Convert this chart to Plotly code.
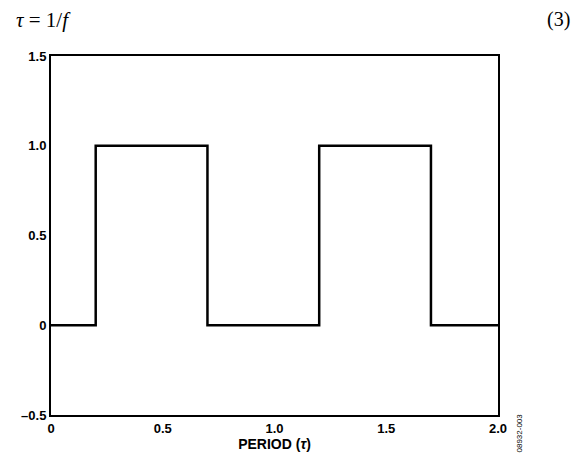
import plotly.graph_objects as go

x_vals = [0, 0.2, 0.2, 0.7, 0.7, 1.2, 1.2, 1.7, 1.7, 2.0]
y_vals = [0, 0, 1, 1, 0, 0, 1, 1, 0, 0]
x_ticks = [0, 0.5, 1.0, 1.5, 2.0]
x_tick_labels = ["0", "0.5", "1.0", "1.5", "2.0"]
y_ticks = [-0.5, 0, 0.5, 1.0, 1.5]
y_tick_labels = ["–0.5", "0", "0.5", "1.0", "1.5"]

W, H = 577, 464
L, R, T, B = 43, 87, 48, 57
pw, ph = W - L - R, H - T - B

fig = go.Figure(go.Scatter(x=x_vals, y=y_vals, mode="lines",
                           line=dict(color="black", width=2.5), hoverinfo="skip"))
bold = dict(family="Liberation Sans", size=13, color="black")
fig.update_layout(
    width=W, height=H, margin=dict(l=L, r=R, t=T, b=B),
    paper_bgcolor="white", plot_bgcolor="white", showlegend=False,
    xaxis=dict(range=[0, 2.0], tickvals=x_ticks, ticktext=[f"<b>{t}</b>" for t in x_tick_labels],
               showgrid=False, zeroline=False, showline=True, linecolor="black", linewidth=2,
               mirror=True, ticks="", tickfont=bold,
               title=dict(text="<b>PERIOD (</b><b><i>τ</i></b><b>)</b>", font=dict(family="Liberation Sans", size=14, color="black"), standoff=2)),
    yaxis=dict(range=[-0.5, 1.5], tickvals=y_ticks, ticktext=[f"<b>{t}</b>" for t in y_tick_labels],
               showgrid=False, zeroline=False, showline=True, linecolor="black", linewidth=2,
               mirror=True, ticks="", tickfont=bold),
    annotations=[
        dict(text="<i>τ</i> = 1/<i>f</i>", x=(6 - L) / pw, y=(H - 12 - B) / ph, xref="paper", yref="paper",
             showarrow=False, xanchor="left", yanchor="middle",
             font=dict(family="Liberation Serif", size=21, color="black")),
        dict(text="(3)", x=(564 - L) / pw, y=(H - 12 - B) / ph, xref="paper", yref="paper", showarrow=False,
             xanchor="right", yanchor="middle",
             font=dict(family="Liberation Serif", size=20, color="black")),
        dict(text="08932-003", x=1.0, y=0, xref="paper", yref="paper", showarrow=False,
             textangle=-90, xanchor="left", yanchor="middle", xshift=14, yshift=-18,
             font=dict(family="Liberation Sans", size=8, color="black")),
    ],
)
fig.write_html("out.html")
